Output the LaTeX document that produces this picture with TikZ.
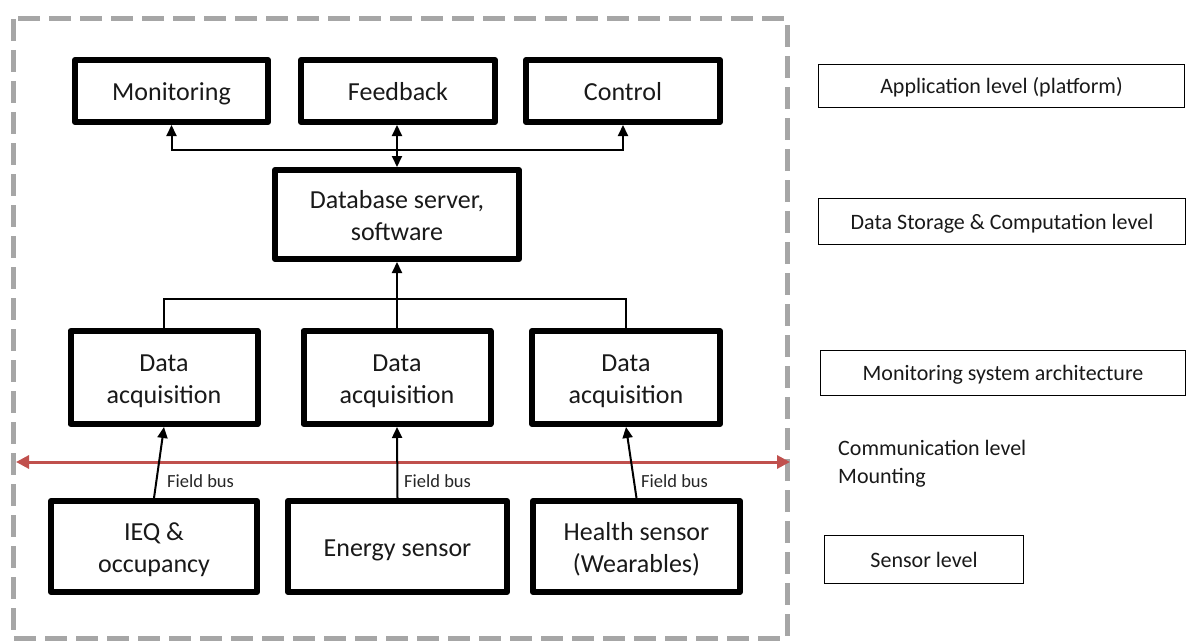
\documentclass[tikz,border=0pt]{standalone}
\usepackage{fontspec}
\setmainfont{Carlito}
\usetikzlibrary{arrows.meta}
\definecolor{redline}{RGB}{192,80,77}
\definecolor{dashgray}{RGB}{166,166,166}
\newcommand{\boxstrut}{\rule[-7pt]{0pt}{33.5pt}}
\newcommand{\lvlstrut}{\rule[-5pt]{0pt}{25pt}}
\newcommand{\twolines}[2]{\raisebox{-4pt}[\height][\depth]{\begin{tabular}{@{}c@{}}#1\\#2\end{tabular}}}
\begin{document}
\begin{tikzpicture}[x=1pt,y=-1pt,
  mainbox/.style={draw, line width=6pt, line join=round, inner sep=0pt, align=center,
                  text=black!90, font=\fontsize{26}{32}\selectfont},
  onebox/.style={mainbox, execute at begin node=\boxstrut},
  levelbox/.style={draw, line width=1.5pt, inner sep=0pt, align=center,
                   text=black!90, font=\fontsize{22}{26}\selectfont,
                   execute at begin node=\lvlstrut},
  conn/.style={line width=2pt, -{Triangle[length=11pt,width=10pt]}},
  dconn/.style={line width=2pt, {Triangle[length=11pt,width=10pt]}-{Triangle[length=11pt,width=10pt]}},
  plainconn/.style={line width=2pt},
  bus/.style={draw=redline, line width=3pt,
              {Triangle[length=13pt,width=13pt]}-{Triangle[length=13pt,width=13pt]}},
  buslabel/.style={font=\fontsize{18.5}{22}\selectfont, text=black!85, anchor=west, inner sep=0pt},
]
\useasboundingbox (0,0) rectangle (1187,642);
\draw[dashgray, line width=5pt, dash pattern=on 22pt off 9pt] (13,19) rectangle (787,638);

% application level
\node[onebox, minimum width=193pt, minimum height=62pt] (mon) at (171.5,91) {Monitoring};
\node[onebox, minimum width=194pt, minimum height=62pt] (fb) at (398,91) {Feedback};
\node[onebox, minimum width=194pt, minimum height=62pt] (ctrl) at (623,91) {Control};

% data storage
\node[mainbox, minimum width=244pt, minimum height=89pt] (db) at (397,214.5) {\twolines{Database server,}{software}};

% data acquisition
\node[mainbox, minimum width=187pt, minimum height=93pt] (da1) at (164,377.5) {\twolines{Data}{acquisition}};
\node[mainbox, minimum width=187pt, minimum height=93pt] (da2) at (397,377.5) {\twolines{Data}{acquisition}};
\node[mainbox, minimum width=188pt, minimum height=93pt] (da3) at (626,377.5) {\twolines{Data}{acquisition}};

% sensors
\node[mainbox, minimum width=206pt, minimum height=91pt] (ieq) at (154,546.5) {\twolines{IEQ \&}{occupancy}};
\node[onebox, minimum width=219pt, minimum height=91pt] (energy) at (397.5,546.5) {Energy sensor};
\node[mainbox, minimum width=207pt, minimum height=91pt] (health) at (636.5,546.5) {\twolines{Health sensor}{(Wearables)}};

% communication bus
\coordinate (busL) at (16,462);
\coordinate (busR) at (790,462);
\draw[bus] (busL) -- (busR);

% top connectors
\coordinate (hub) at (db.north |- 0,150);
\draw[conn] (hub) -| (mon.south);
\draw[conn] (hub) -| (ctrl.south);
\draw[dconn] (db.north) -- (db.north |- fb.south);

% acquisition to database
\coordinate (hub2) at (db.south |- 0,299);
\draw[plainconn] (da1.north) |- (hub2) -| (da3.north);
\draw[conn] (da2.north) -- (db.south);

% field bus
\draw[conn] (ieq.north) -- (da1.south);
\draw[conn] (energy.north) -- (da2.south);
\draw[conn] (health.north) -- (da3.south);
\node[buslabel] (fb1) at (167,481) {Field bus};
\node[buslabel] (fb2) at (404,481) {Field bus};
\node[buslabel] (fb3) at (641,481) {Field bus};

% level labels
\node[levelbox, minimum width=366pt, minimum height=43pt] (app) at (1001.5,86) {Application level (platform)};
\node[levelbox, minimum width=367pt, minimum height=46pt] (dsl) at (1002,221.5) {Data Storage \& Computation level};
\node[levelbox, minimum width=365pt, minimum height=45pt] (msa) at (1003,373) {Monitoring system architecture};
\node[anchor=west, align=left, inner sep=0pt, text=black!90, font=\fontsize{22}{28}\selectfont] (comm) at (838,464) {Communication level\\Mounting};
\node[levelbox, minimum width=199pt, minimum height=48pt] (sens) at (924,559.5) {Sensor level};
\end{tikzpicture}
\end{document}
